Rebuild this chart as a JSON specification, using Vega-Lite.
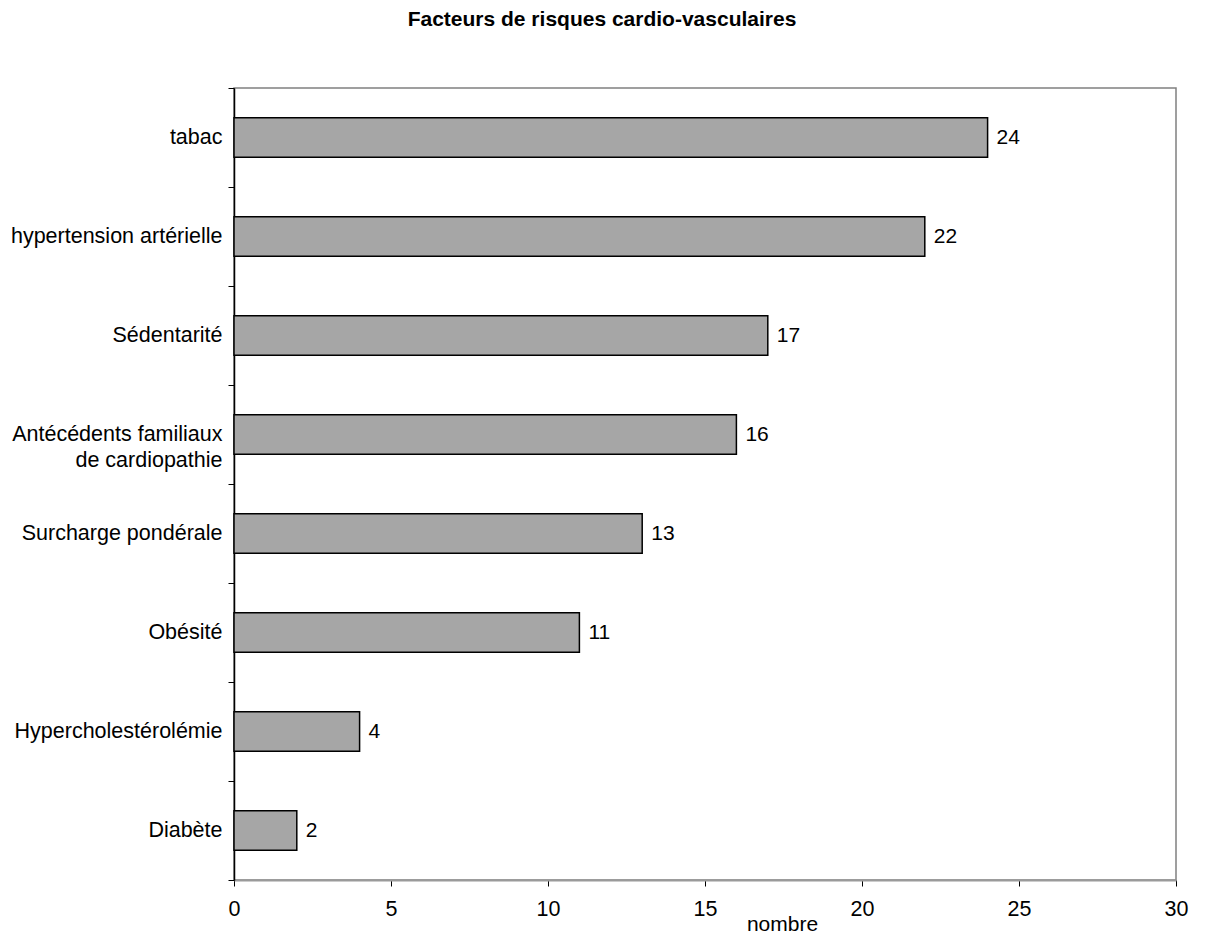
{
  "$schema": "https://vega.github.io/schema/vega-lite/v6.json",
  "autosize": {"type": "none"},
  "width": 942,
  "height": 792,
  "padding": {"left": 234, "top": 88, "right": 29, "bottom": 53},
  "background": "white",
  "title": {
    "text": "Facteurs de risques cardio-vasculaires",
    "font": "Liberation Sans",
    "fontSize": 21,
    "fontWeight": "bold",
    "color": "black",
    "anchor": "middle",
    "frame": "group",
    "dx": -103,
    "baseline": "alphabetic",
    "offset": 30
  },
  "config": {
    "view": {"stroke": "#808080", "strokeWidth": 1.5},
    "font": "Liberation Sans"
  },
  "data": {
    "values": [
      {"facteur": "tabac", "nombre": 24},
      {"facteur": "hypertension artérielle", "nombre": 22},
      {"facteur": "Sédentarité", "nombre": 17},
      {"facteur": "Antécédents familiaux|de cardiopathie", "nombre": 16},
      {"facteur": "Surcharge pondérale", "nombre": 13},
      {"facteur": "Obésité", "nombre": 11},
      {"facteur": "Hypercholestérolémie", "nombre": 4},
      {"facteur": "Diabète", "nombre": 2}
    ]
  },
  "encoding": {
    "y": {
      "field": "facteur",
      "type": "nominal",
      "sort": {"field": "nombre", "order": "descending"},
      "scale": {"paddingInner": 0, "paddingOuter": 0},
      "axis": {
        "title": null,
        "domainColor": "black",
        "domainWidth": 1.5,
        "tickColor": "black",
        "tickSize": 6,
        "tickWidth": 1,
        "tickBand": "extent",
        "labelPadding": 6,
        "labelFont": "Liberation Sans",
        "labelFontSize": 21.5,
        "labelColor": "black",
        "labelLineHeight": 26,
        "labelLimit": 400,
        "labelExpr": "split(datum.label, '|')"
      }
    },
    "x": {
      "field": "nombre",
      "type": "quantitative",
      "scale": {"domain": [0, 30], "nice": false},
      "axis": {
        "values": [0, 5, 10, 15, 20, 25, 30],
        "grid": false,
        "labelFlush": false,
        "domainColor": "#9a9a9a",
        "domainWidth": 2,
        "tickColor": "black",
        "tickSize": 6,
        "labelPadding": 12,
        "labelFont": "Liberation Sans",
        "labelFontSize": 21.5,
        "labelColor": "black",
        "title": "nombre",
        "titleFont": "Liberation Sans",
        "titleFontSize": 21,
        "titleFontWeight": "normal",
        "titleColor": "black",
        "titleX": 548,
        "titleY": 50,
        "titleAlign": "center",
        "titleBaseline": "alphabetic"
      }
    }
  },
  "layer": [
    {
      "mark": {"type": "bar", "height": {"band": 0.4}, "fill": "#a6a6a6", "stroke": "black", "strokeWidth": 1.5}
    },
    {
      "mark": {"type": "text", "align": "left", "baseline": "middle", "dx": 9, "fontSize": 21, "font": "Liberation Sans", "color": "black"},
      "encoding": {"text": {"field": "nombre", "type": "quantitative"}}
    }
  ]
}
